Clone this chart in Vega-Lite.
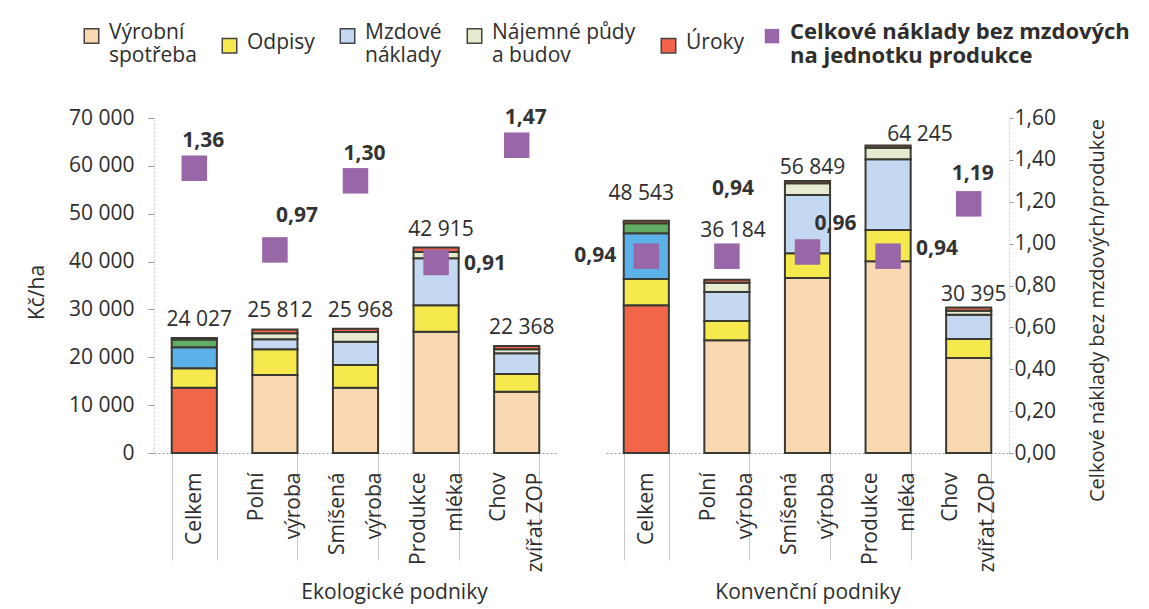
{
  "$schema": "https://vega.github.io/schema/vega-lite/v6.json",
  "background": "white",
  "padding": {"left": 26, "top": 11, "right": 5, "bottom": 5},
  "spacing": 49,
  "bounds": "flush",
  "config": {
    "font": "Open Sans",
    "locale": {"number": {"decimal": ",", "thousands": " ", "grouping": [3], "currency": ["", " Kč"]}},
    "view": {"stroke": null},
    "axis": {"labelFont": "Open Sans", "titleFont": "Open Sans", "labelColor": "#2e2e2e", "titleColor": "#2e2e2e", "labelFontSize": 21, "titleFontSize": 21, "titleFontWeight": "normal", "grid": false},
    "legend": {"labelFont": "Open Sans", "labelFontSize": 21, "labelColor": "#2e2e2e"},
    "text": {"font": "Open Sans"}
  },
  "datasets": {
    "naklady": [
      {"skupina": "Ekologické podniky", "kategorie": "Celkem", "slozka": "Výrobní spotřeba", "hodnota": 13640},
      {"skupina": "Ekologické podniky", "kategorie": "Celkem", "slozka": "Odpisy", "hodnota": 4060},
      {"skupina": "Ekologické podniky", "kategorie": "Celkem", "slozka": "Mzdové náklady", "hodnota": 4385},
      {"skupina": "Ekologické podniky", "kategorie": "Celkem", "slozka": "Nájemné půdy a budov", "hodnota": 1650},
      {"skupina": "Ekologické podniky", "kategorie": "Celkem", "slozka": "Úroky", "hodnota": 292},
      {"skupina": "Ekologické podniky", "kategorie": "Polní výroba", "slozka": "Výrobní spotřeba", "hodnota": 16300},
      {"skupina": "Ekologické podniky", "kategorie": "Polní výroba", "slozka": "Odpisy", "hodnota": 5360},
      {"skupina": "Ekologické podniky", "kategorie": "Polní výroba", "slozka": "Mzdové náklady", "hodnota": 2090},
      {"skupina": "Ekologické podniky", "kategorie": "Polní výroba", "slozka": "Nájemné půdy a budov", "hodnota": 1250},
      {"skupina": "Ekologické podniky", "kategorie": "Polní výroba", "slozka": "Úroky", "hodnota": 812},
      {"skupina": "Ekologické podniky", "kategorie": "Smíšená výroba", "slozka": "Výrobní spotřeba", "hodnota": 13650},
      {"skupina": "Ekologické podniky", "kategorie": "Smíšená výroba", "slozka": "Odpisy", "hodnota": 4740},
      {"skupina": "Ekologické podniky", "kategorie": "Smíšená výroba", "slozka": "Mzdové náklady", "hodnota": 4870},
      {"skupina": "Ekologické podniky", "kategorie": "Smíšená výroba", "slozka": "Nájemné půdy a budov", "hodnota": 2020},
      {"skupina": "Ekologické podniky", "kategorie": "Smíšená výroba", "slozka": "Úroky", "hodnota": 688},
      {"skupina": "Ekologické podniky", "kategorie": "Produkce mléka", "slozka": "Výrobní spotřeba", "hodnota": 25350},
      {"skupina": "Ekologické podniky", "kategorie": "Produkce mléka", "slozka": "Odpisy", "hodnota": 5510},
      {"skupina": "Ekologické podniky", "kategorie": "Produkce mléka", "slozka": "Mzdové náklady", "hodnota": 9820},
      {"skupina": "Ekologické podniky", "kategorie": "Produkce mléka", "slozka": "Nájemné půdy a budov", "hodnota": 1320},
      {"skupina": "Ekologické podniky", "kategorie": "Produkce mléka", "slozka": "Úroky", "hodnota": 915},
      {"skupina": "Ekologické podniky", "kategorie": "Chov zvířat ZOP", "slozka": "Výrobní spotřeba", "hodnota": 12810},
      {"skupina": "Ekologické podniky", "kategorie": "Chov zvířat ZOP", "slozka": "Odpisy", "hodnota": 3700},
      {"skupina": "Ekologické podniky", "kategorie": "Chov zvířat ZOP", "slozka": "Mzdové náklady", "hodnota": 4320},
      {"skupina": "Ekologické podniky", "kategorie": "Chov zvířat ZOP", "slozka": "Nájemné půdy a budov", "hodnota": 830},
      {"skupina": "Ekologické podniky", "kategorie": "Chov zvířat ZOP", "slozka": "Úroky", "hodnota": 708},
      {"skupina": "Konvenční podniky", "kategorie": "Celkem", "slozka": "Výrobní spotřeba", "hodnota": 30860},
      {"skupina": "Konvenční podniky", "kategorie": "Celkem", "slozka": "Odpisy", "hodnota": 5500},
      {"skupina": "Konvenční podniky", "kategorie": "Celkem", "slozka": "Mzdové náklady", "hodnota": 9540},
      {"skupina": "Konvenční podniky", "kategorie": "Celkem", "slozka": "Nájemné půdy a budov", "hodnota": 2100},
      {"skupina": "Konvenční podniky", "kategorie": "Celkem", "slozka": "Úroky", "hodnota": 543},
      {"skupina": "Konvenční podniky", "kategorie": "Polní výroba", "slozka": "Výrobní spotřeba", "hodnota": 23540},
      {"skupina": "Konvenční podniky", "kategorie": "Polní výroba", "slozka": "Odpisy", "hodnota": 4040},
      {"skupina": "Konvenční podniky", "kategorie": "Polní výroba", "slozka": "Mzdové náklady", "hodnota": 6060},
      {"skupina": "Konvenční podniky", "kategorie": "Polní výroba", "slozka": "Nájemné půdy a budov", "hodnota": 1950},
      {"skupina": "Konvenční podniky", "kategorie": "Polní výroba", "slozka": "Úroky", "hodnota": 594},
      {"skupina": "Konvenční podniky", "kategorie": "Smíšená výroba", "slozka": "Výrobní spotřeba", "hodnota": 36570},
      {"skupina": "Konvenční podniky", "kategorie": "Smíšená výroba", "slozka": "Odpisy", "hodnota": 5150},
      {"skupina": "Konvenční podniky", "kategorie": "Smíšená výroba", "slozka": "Mzdové náklady", "hodnota": 12180},
      {"skupina": "Konvenční podniky", "kategorie": "Smíšená výroba", "slozka": "Nájemné půdy a budov", "hodnota": 2450},
      {"skupina": "Konvenční podniky", "kategorie": "Smíšená výroba", "slozka": "Úroky", "hodnota": 499},
      {"skupina": "Konvenční podniky", "kategorie": "Produkce mléka", "slozka": "Výrobní spotřeba", "hodnota": 40050},
      {"skupina": "Konvenční podniky", "kategorie": "Produkce mléka", "slozka": "Odpisy", "hodnota": 6550},
      {"skupina": "Konvenční podniky", "kategorie": "Produkce mléka", "slozka": "Mzdové náklady", "hodnota": 14760},
      {"skupina": "Konvenční podniky", "kategorie": "Produkce mléka", "slozka": "Nájemné půdy a budov", "hodnota": 2440},
      {"skupina": "Konvenční podniky", "kategorie": "Produkce mléka", "slozka": "Úroky", "hodnota": 445},
      {"skupina": "Konvenční podniky", "kategorie": "Chov zvířat ZOP", "slozka": "Výrobní spotřeba", "hodnota": 19850},
      {"skupina": "Konvenční podniky", "kategorie": "Chov zvířat ZOP", "slozka": "Odpisy", "hodnota": 3970},
      {"skupina": "Konvenční podniky", "kategorie": "Chov zvířat ZOP", "slozka": "Mzdové náklady", "hodnota": 5080},
      {"skupina": "Konvenční podniky", "kategorie": "Chov zvířat ZOP", "slozka": "Nájemné půdy a budov", "hodnota": 830},
      {"skupina": "Konvenční podniky", "kategorie": "Chov zvířat ZOP", "slozka": "Úroky", "hodnota": 665}
    ],
    "ukazatele": [
      {"skupina": "Ekologické podniky", "kategorie": "Celkem", "celkem": 24027, "pomer": 1.36},
      {"skupina": "Ekologické podniky", "kategorie": "Polní výroba", "celkem": 25812, "pomer": 0.97},
      {"skupina": "Ekologické podniky", "kategorie": "Smíšená výroba", "celkem": 25968, "pomer": 1.30},
      {"skupina": "Ekologické podniky", "kategorie": "Produkce mléka", "celkem": 42915, "pomer": 0.91},
      {"skupina": "Ekologické podniky", "kategorie": "Chov zvířat ZOP", "celkem": 22368, "pomer": 1.47},
      {"skupina": "Konvenční podniky", "kategorie": "Celkem", "celkem": 48543, "pomer": 0.94},
      {"skupina": "Konvenční podniky", "kategorie": "Polní výroba", "celkem": 36184, "pomer": 0.94},
      {"skupina": "Konvenční podniky", "kategorie": "Smíšená výroba", "celkem": 56849, "pomer": 0.96},
      {"skupina": "Konvenční podniky", "kategorie": "Produkce mléka", "celkem": 64245, "pomer": 0.94},
      {"skupina": "Konvenční podniky", "kategorie": "Chov zvířat ZOP", "celkem": 30395, "pomer": 1.19}
    ]
  },
  "hconcat": [
    {
      "width": 403,
      "height": 335,
      "encoding": {
        "x": {
          "field": "kategorie", "type": "nominal",
          "scale": {"domain": ["Celkem", "Polní výroba", "Smíšená výroba", "Produkce mléka", "Chov zvířat ZOP"], "paddingInner": 0.44, "paddingOuter": 0.22},
          "axis": {"title": "Ekologické podniky", "titleX": 240, "titlePadding": 4, "labelAngle": 270, "labelLineHeight": 37, "labelPadding": -88, "labelOffset": {"condition": {"test": "datum.label == 'Celkem'", "value": 0}, "value": -18}, "labelExpr": "datum.label == 'Chov zvířat ZOP' ? ['Chov', 'zvířat  ZOP'] : split(datum.label, ' ')", "tickBand": "extent", "tickSize": 107, "tickColor": "#c8c8c8", "tickWidth": 1, "domainColor": "#a0a0a0", "domainDash": [2, 2]}
        }
      },
      "layer": [
        {
          "layer": [
            {
              "data": {"name": "naklady"},
              "transform": [
                {"filter": "datum.skupina == 'Ekologické podniky'"},
                {"calculate": "indexof(['Výrobní spotřeba', 'Odpisy', 'Mzdové náklady', 'Nájemné půdy a budov', 'Úroky'], datum.slozka)", "as": "poradi_slozky"}
              ],
              "mark": {"type": "bar", "stroke": "#3a3a32", "strokeWidth": 2},
              "encoding": {
                "y": {"field": "hodnota", "type": "quantitative", "stack": "zero", "scale": {"domain": [0, 70000]},
                  "axis": {"title": "Kč/ha", "values": [0, 10000, 20000, 30000, 40000, 50000, 60000, 70000], "format": ",d", "tickSize": 6, "tickColor": "#999999", "labelPadding": 14, "domainColor": "#cccccc", "domainDash": [2, 2], "titleAngle": 270, "titleX": -117, "titleY": 174, "titleAlign": "center", "titleBaseline": "middle"}},
                "order": {"field": "poradi_slozky", "type": "quantitative", "sort": "ascending"},
                "color": {
                  "field": "slozka", "type": "nominal",
                  "scale": {"domain": ["Výrobní spotřeba", "Odpisy", "Mzdové náklady", "Nájemné půdy a budov", "Úroky"], "range": ["#fad9b2", "#f5e94e", "#c4d9f1", "#e6ebcf", "#f1634c"]},
                  "condition": [
                    {"test": "datum.kategorie == 'Celkem' && datum.slozka == 'Výrobní spotřeba'", "value": "#f2674a"},
                    {"test": "datum.kategorie == 'Celkem' && datum.slozka == 'Mzdové náklady'", "value": "#5cb1e8"},
                    {"test": "datum.kategorie == 'Celkem' && datum.slozka == 'Nájemné půdy a budov'", "value": "#62ad64"}
                  ],
                  "legend": {"title": null, "orient": "none", "legendX": -73, "legendY": -107, "direction": "horizontal", "columns": 5, "symbolType": "M-1,0.95L1,0.95L1,2.95L-1,2.95Z", "symbolSize": 210, "symbolStrokeColor": "#444444", "symbolStrokeWidth": 1.5, "labelOffset": 7, "columnPadding": 22, "labelLimit": 250, "labelBaseline": "top",
                    "labelExpr": "datum.label == 'Výrobní spotřeba' ? ['Výrobní', 'spotřeba'] : datum.label == 'Mzdové náklady' ? ['Mzdové', 'náklady'] : datum.label == 'Nájemné půdy a budov' ? ['Nájemné půdy', 'a budov'] : datum.label"}
                }
              }
            },
            {
              "data": {"name": "ukazatele"},
              "transform": [{"filter": "datum.skupina == 'Ekologické podniky'"}],
              "mark": {"type": "text", "dx": 5, "dy": -12, "fontSize": 21, "color": "#2e2e2e", "baseline": "alphabetic"},
              "encoding": {
                "y": {"field": "celkem", "type": "quantitative"},
                "text": {"field": "celkem", "type": "quantitative", "format": ",d"}
              }
            }
          ]
        },
        {
          "layer": [
            {
              "data": {"name": "ukazatele"},
              "transform": [{"filter": "datum.skupina == 'Ekologické podniky'"}],
              "mark": {"type": "point", "filled": true, "shape": "square", "size": 650, "color": "#9966a8"},
              "encoding": {
                "y": {"field": "pomer", "type": "quantitative", "scale": {"domain": [0, 1.6]}, "axis": null},
                "opacity": {"datum": "Celkové náklady bez mzdových na jednotku produkce", "type": "ordinal", "scale": {"range": [1]},
                  "legend": {"title": null, "orient": "none", "legendX": 607, "legendY": -107, "symbolType": "M-1,0.95L1,0.95L1,2.95L-1,2.95Z", "symbolFillColor": "#9966a8", "symbolStrokeWidth": 0, "symbolSize": 210, "symbolOpacity": 1, "labelFontWeight": "bold", "labelFontSize": 22, "labelOffset": 7, "labelLimit": 400, "labelBaseline": "top", "labelExpr": "['Celkové náklady bez mzdových', 'na jednotku produkce']"}}
              }
            },
            {
              "data": {"name": "ukazatele"},
              "transform": [{"filter": "datum.skupina == 'Ekologické podniky' && indexof(['Celkem', 'Smíšená výroba', 'Chov zvířat ZOP'], datum.kategorie) >= 0"}],
              "mark": {"type": "text", "dx": 9, "dy": -21, "fontSize": 21, "fontWeight": "bold", "color": "#333333", "baseline": "alphabetic"},
              "encoding": {"y": {"field": "pomer", "type": "quantitative"}, "text": {"field": "pomer", "type": "quantitative", "format": ".2f"}}
            },
            {
              "data": {"name": "ukazatele"},
              "transform": [{"filter": "datum.skupina == 'Ekologické podniky' && datum.kategorie == 'Polní výroba'"}],
              "mark": {"type": "text", "dx": 22, "dy": -28, "fontSize": 21, "fontWeight": "bold", "color": "#333333", "baseline": "alphabetic"},
              "encoding": {"y": {"field": "pomer", "type": "quantitative"}, "text": {"field": "pomer", "type": "quantitative", "format": ".2f"}}
            },
            {
              "data": {"name": "ukazatele"},
              "transform": [{"filter": "datum.skupina == 'Ekologické podniky' && datum.kategorie == 'Produkce mléka'"}],
              "mark": {"type": "text", "align": "left", "dx": 28, "dy": 8, "fontSize": 21, "fontWeight": "bold", "color": "#333333", "baseline": "alphabetic"},
              "encoding": {"y": {"field": "pomer", "type": "quantitative"}, "text": {"field": "pomer", "type": "quantitative", "format": ".2f"}}
            }
          ]
        }
      ],
      "resolve": {"scale": {"y": "independent"}}
    },
    {
      "width": 403,
      "height": 335,
      "encoding": {
        "x": {
          "field": "kategorie", "type": "nominal",
          "scale": {"domain": ["Celkem", "Polní výroba", "Smíšená výroba", "Produkce mléka", "Chov zvířat ZOP"], "paddingInner": 0.44, "paddingOuter": 0.22},
          "axis": {"title": "Konvenční podniky", "titlePadding": 4, "labelAngle": 270, "labelLineHeight": 37, "labelPadding": -88, "labelOffset": {"condition": {"test": "datum.label == 'Celkem'", "value": 0}, "value": -18}, "labelExpr": "datum.label == 'Chov zvířat ZOP' ? ['Chov', 'zvířat  ZOP'] : split(datum.label, ' ')", "tickBand": "extent", "tickSize": 107, "tickColor": "#c8c8c8", "tickWidth": 1, "domainColor": "#a0a0a0", "domainDash": [2, 2]}
        }
      },
      "layer": [
        {
          "layer": [
            {
              "data": {"name": "naklady"},
              "transform": [
                {"filter": "datum.skupina == 'Konvenční podniky'"},
                {"calculate": "indexof(['Výrobní spotřeba', 'Odpisy', 'Mzdové náklady', 'Nájemné půdy a budov', 'Úroky'], datum.slozka)", "as": "poradi_slozky"}
              ],
              "mark": {"type": "bar", "stroke": "#3a3a32", "strokeWidth": 2},
              "encoding": {
                "y": {"field": "hodnota", "type": "quantitative", "stack": "zero", "scale": {"domain": [0, 70000]}, "axis": null},
                "order": {"field": "poradi_slozky", "type": "quantitative", "sort": "ascending"},
                "color": {
                  "field": "slozka", "type": "nominal",
                  "scale": {"domain": ["Výrobní spotřeba", "Odpisy", "Mzdové náklady", "Nájemné půdy a budov", "Úroky"], "range": ["#fad9b2", "#f5e94e", "#c4d9f1", "#e6ebcf", "#f1634c"]},
                  "condition": [
                    {"test": "datum.kategorie == 'Celkem' && datum.slozka == 'Výrobní spotřeba'", "value": "#f2674a"},
                    {"test": "datum.kategorie == 'Celkem' && datum.slozka == 'Mzdové náklady'", "value": "#5cb1e8"},
                    {"test": "datum.kategorie == 'Celkem' && datum.slozka == 'Nájemné půdy a budov'", "value": "#62ad64"}
                  ],
                  "legend": {"title": null, "orient": "none", "legendX": -73, "legendY": -107, "direction": "horizontal", "columns": 5, "symbolType": "M-1,0.95L1,0.95L1,2.95L-1,2.95Z", "symbolSize": 210, "symbolStrokeColor": "#444444", "symbolStrokeWidth": 1.5, "labelOffset": 7, "columnPadding": 22, "labelLimit": 250, "labelBaseline": "top",
                    "labelExpr": "datum.label == 'Výrobní spotřeba' ? ['Výrobní', 'spotřeba'] : datum.label == 'Mzdové náklady' ? ['Mzdové', 'náklady'] : datum.label == 'Nájemné půdy a budov' ? ['Nájemné půdy', 'a budov'] : datum.label"}
                }
              }
            },
            {
              "data": {"name": "ukazatele"},
              "transform": [{"filter": "datum.skupina == 'Konvenční podniky' && datum.kategorie == 'Celkem'"}],
              "mark": {"type": "text", "dx": -5, "dy": -21, "fontSize": 21, "color": "#2e2e2e", "baseline": "alphabetic"},
              "encoding": {"y": {"field": "celkem", "type": "quantitative"}, "text": {"field": "celkem", "type": "quantitative", "format": ",d"}}
            },
            {
              "data": {"name": "ukazatele"},
              "transform": [{"filter": "datum.skupina == 'Konvenční podniky' && datum.kategorie == 'Polní výroba'"}],
              "mark": {"type": "text", "dx": 6, "dy": -43, "fontSize": 21, "color": "#2e2e2e", "baseline": "alphabetic"},
              "encoding": {"y": {"field": "celkem", "type": "quantitative"}, "text": {"field": "celkem", "type": "quantitative", "format": ",d"}}
            },
            {
              "data": {"name": "ukazatele"},
              "transform": [{"filter": "datum.skupina == 'Konvenční podniky' && (datum.kategorie == 'Smíšená výroba' || datum.kategorie == 'Chov zvířat ZOP')"}],
              "mark": {"type": "text", "dx": 5, "dy": -7, "fontSize": 21, "color": "#2e2e2e", "baseline": "alphabetic"},
              "encoding": {"y": {"field": "celkem", "type": "quantitative"}, "text": {"field": "celkem", "type": "quantitative", "format": ",d"}}
            },
            {
              "data": {"name": "ukazatele"},
              "transform": [{"filter": "datum.skupina == 'Konvenční podniky' && datum.kategorie == 'Produkce mléka'"}],
              "mark": {"type": "text", "dx": 32, "dy": -5, "fontSize": 21, "color": "#2e2e2e", "baseline": "alphabetic"},
              "encoding": {"y": {"field": "celkem", "type": "quantitative"}, "text": {"field": "celkem", "type": "quantitative", "format": ",d"}}
            }
          ]
        },
        {
          "layer": [
            {
              "data": {"name": "ukazatele"},
              "transform": [{"filter": "datum.skupina == 'Konvenční podniky'"}],
              "mark": {"type": "point", "filled": true, "shape": "square", "size": 650, "color": "#9966a8"},
              "encoding": {
                "y": {"field": "pomer", "type": "quantitative", "scale": {"domain": [0, 1.6]},
                  "axis": {"orient": "right", "title": "Celkové náklady bez mzdových/produkce", "values": [0, 0.2, 0.4, 0.6, 0.8, 1.0, 1.2, 1.4, 1.6], "format": ".2f", "tickSize": 4, "tickColor": "#999999", "labelPadding": 1, "domainColor": "#cccccc", "domainDash": [2, 2], "titleAngle": 270, "titleX": 88, "titleY": 192, "titleAlign": "center", "titleBaseline": "middle", "titleFontSize": 20}},
                "opacity": {"datum": "Celkové náklady bez mzdových na jednotku produkce", "type": "ordinal", "scale": {"range": [1]},
                  "legend": {"title": null, "orient": "none", "legendX": 607, "legendY": -107, "symbolType": "M-1,0.95L1,0.95L1,2.95L-1,2.95Z", "symbolFillColor": "#9966a8", "symbolStrokeWidth": 0, "symbolSize": 210, "symbolOpacity": 1, "labelFontWeight": "bold", "labelFontSize": 22, "labelOffset": 7, "labelLimit": 400, "labelBaseline": "top", "labelExpr": "['Celkové náklady bez mzdových', 'na jednotku produkce']"}}
              }
            },
            {
              "data": {"name": "ukazatele"},
              "transform": [{"filter": "datum.skupina == 'Konvenční podniky' && datum.kategorie == 'Celkem'"}],
              "mark": {"type": "text", "align": "right", "dx": -30, "dy": 6, "fontSize": 21, "fontWeight": "bold", "color": "#333333", "baseline": "alphabetic"},
              "encoding": {"y": {"field": "pomer", "type": "quantitative"}, "text": {"field": "pomer", "type": "quantitative", "format": ".2f"}}
            },
            {
              "data": {"name": "ukazatele"},
              "transform": [{"filter": "datum.skupina == 'Konvenční podniky' && datum.kategorie == 'Polní výroba'"}],
              "mark": {"type": "text", "dx": 6, "dy": -61, "fontSize": 21, "fontWeight": "bold", "color": "#333333", "baseline": "alphabetic"},
              "encoding": {"y": {"field": "pomer", "type": "quantitative"}, "text": {"field": "pomer", "type": "quantitative", "format": ".2f"}}
            },
            {
              "data": {"name": "ukazatele"},
              "transform": [{"filter": "datum.skupina == 'Konvenční podniky' && datum.kategorie == 'Smíšená výroba'"}],
              "mark": {"type": "text", "align": "left", "dx": 7, "dy": -22, "fontSize": 21, "fontWeight": "bold", "color": "#333333", "baseline": "alphabetic"},
              "encoding": {"y": {"field": "pomer", "type": "quantitative"}, "text": {"field": "pomer", "type": "quantitative", "format": ".2f"}}
            },
            {
              "data": {"name": "ukazatele"},
              "transform": [{"filter": "datum.skupina == 'Konvenční podniky' && datum.kategorie == 'Produkce mléka'"}],
              "mark": {"type": "text", "align": "left", "dx": 28, "dy": -1, "fontSize": 21, "fontWeight": "bold", "color": "#333333", "baseline": "alphabetic"},
              "encoding": {"y": {"field": "pomer", "type": "quantitative"}, "text": {"field": "pomer", "type": "quantitative", "format": ".2f"}}
            },
            {
              "data": {"name": "ukazatele"},
              "transform": [{"filter": "datum.skupina == 'Konvenční podniky' && datum.kategorie == 'Chov zvířat ZOP'"}],
              "mark": {"type": "text", "dx": 4, "dy": -24, "fontSize": 21, "fontWeight": "bold", "color": "#333333", "baseline": "alphabetic"},
              "encoding": {"y": {"field": "pomer", "type": "quantitative"}, "text": {"field": "pomer", "type": "quantitative", "format": ".2f"}}
            }
          ]
        }
      ],
      "resolve": {"scale": {"y": "independent"}}
    }
  ]
}
